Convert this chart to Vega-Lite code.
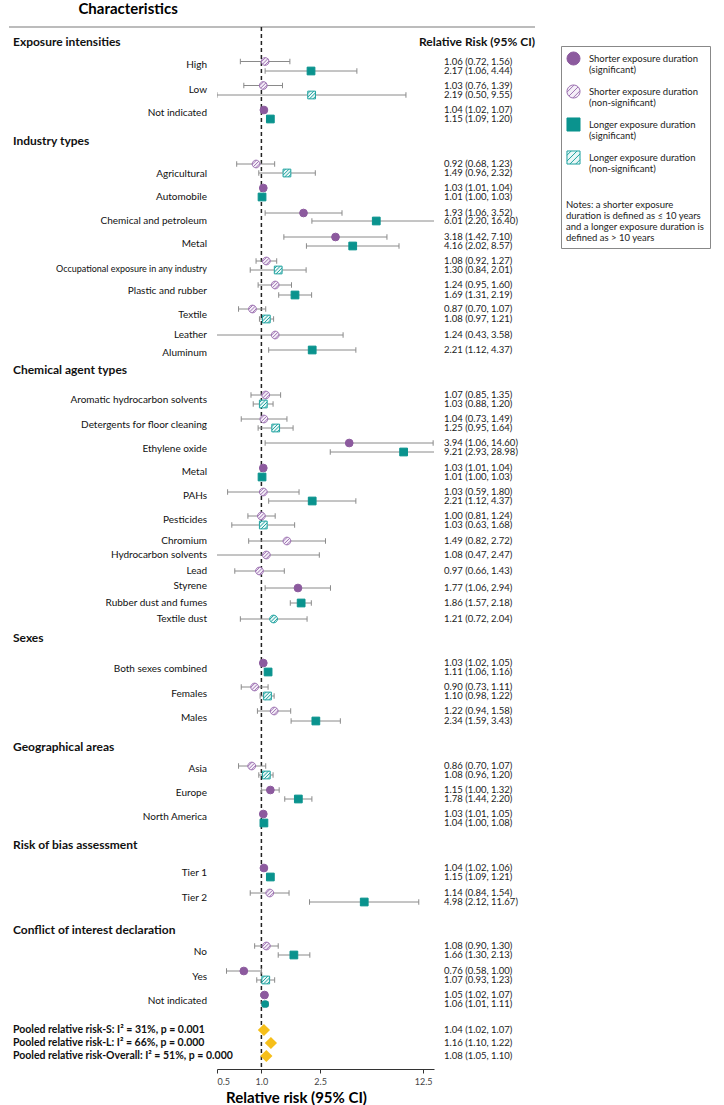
{
  "$schema": "https://vega.github.io/schema/vega-lite/v6.json",
  "background": "white",
  "padding": {"left": 8, "top": 2, "right": 0, "bottom": 0},
  "autosize": {"type": "pad"},
  "title": {"text": "Characteristics", "anchor": "start", "dx": 70, "fontSize": 15, "font": "Lato", "fontWeight": "bold", "color": "#000", "offset": 9},
  "spacing": 0,
  "bounds": "flush",
  "datasets": {
    "labels": [
      {"label": "Exposure intensities", "pos": 1.5, "kind": "header"},
      {"label": "High", "pos": 3.8, "kind": "item"},
      {"label": "Low", "pos": 6.3, "kind": "item"},
      {"label": "Not indicated", "pos": 8.6, "kind": "item"},
      {"label": "Industry types", "pos": 11.4, "kind": "header"},
      {"label": "Agricultural", "pos": 14.7, "kind": "item"},
      {"label": "Automobile", "pos": 17.0, "kind": "item"},
      {"label": "Chemical and petroleum", "pos": 19.4, "kind": "item"},
      {"label": "Metal", "pos": 21.7, "kind": "item"},
      {"label": "Occupational exposure in any industry", "pos": 24.2, "kind": "small"},
      {"label": "Plastic and rubber", "pos": 26.4, "kind": "item"},
      {"label": "Textile", "pos": 28.8, "kind": "item"},
      {"label": "Leather", "pos": 30.8, "kind": "item"},
      {"label": "Aluminum", "pos": 32.6, "kind": "item"},
      {"label": "Chemical agent types", "pos": 34.3, "kind": "header"},
      {"label": "Aromatic hydrocarbon solvents", "pos": 37.3, "kind": "item"},
      {"label": "Detergents for floor cleaning", "pos": 39.8, "kind": "item"},
      {"label": "Ethylene oxide", "pos": 42.2, "kind": "item"},
      {"label": "Metal", "pos": 44.5, "kind": "item"},
      {"label": "PAHs", "pos": 46.9, "kind": "item"},
      {"label": "Pesticides", "pos": 49.3, "kind": "item"},
      {"label": "Chromium", "pos": 51.4, "kind": "item"},
      {"label": "Hydrocarbon solvents", "pos": 52.8, "kind": "item"},
      {"label": "Lead", "pos": 54.4, "kind": "item"},
      {"label": "Styrene", "pos": 55.9, "kind": "item"},
      {"label": "Rubber dust and fumes", "pos": 57.6, "kind": "item"},
      {"label": "Textile dust", "pos": 59.2, "kind": "item"},
      {"label": "Sexes", "pos": 61.1, "kind": "header"},
      {"label": "Both sexes combined", "pos": 64.2, "kind": "item"},
      {"label": "Females", "pos": 66.7, "kind": "item"},
      {"label": "Males", "pos": 69.1, "kind": "item"},
      {"label": "Geographical areas", "pos": 72.0, "kind": "header"},
      {"label": "Asia", "pos": 74.2, "kind": "item"},
      {"label": "Europe", "pos": 76.6, "kind": "item"},
      {"label": "North America", "pos": 79.0, "kind": "item"},
      {"label": "Risk of bias assessment", "pos": 81.8, "kind": "header"},
      {"label": "Tier 1", "pos": 84.6, "kind": "item"},
      {"label": "Tier 2", "pos": 87.1, "kind": "item"},
      {"label": "Conflict of interest declaration", "pos": 90.3, "kind": "header"},
      {"label": "No", "pos": 92.5, "kind": "item"},
      {"label": "Yes", "pos": 95.0, "kind": "item"},
      {"label": "Not indicated", "pos": 97.4, "kind": "item"},
      {"label": "Pooled relative risk-S: I² = 31%, p = 0.001", "pos": 100.3, "kind": "pooled"},
      {"label": "Pooled relative risk-L: I² = 66%, p = 0.000", "pos": 101.6, "kind": "pooled"},
      {"label": "Pooled relative risk-Overall: I² = 51%, p = 0.000", "pos": 102.9, "kind": "pooled"}
    ],
    "est": [
      {"pos": 3.45, "est": 1.06, "lo": 0.72, "hi": 1.56, "txt": "1.06 (0.72, 1.56)", "cat": "Shorter exposure duration (non-significant)"},
      {"pos": 4.4, "est": 2.17, "lo": 1.06, "hi": 4.44, "txt": "2.17 (1.06, 4.44)", "cat": "Longer exposure duration (significant)"},
      {"pos": 5.85, "est": 1.03, "lo": 0.76, "hi": 1.39, "txt": "1.03 (0.76, 1.39)", "cat": "Shorter exposure duration (non-significant)"},
      {"pos": 6.8, "est": 2.19, "lo": 0.50, "hi": 9.55, "txt": "2.19 (0.50, 9.55)", "cat": "Longer exposure duration (non-significant)"},
      {"pos": 8.3, "est": 1.04, "lo": 1.02, "hi": 1.07, "txt": "1.04 (1.02, 1.07)", "cat": "Shorter exposure duration (significant)"},
      {"pos": 9.2, "est": 1.15, "lo": 1.09, "hi": 1.20, "txt": "1.15 (1.09, 1.20)", "cat": "Longer exposure duration (significant)"},
      {"pos": 13.7, "est": 0.92, "lo": 0.68, "hi": 1.23, "txt": "0.92 (0.68, 1.23)", "cat": "Shorter exposure duration (non-significant)"},
      {"pos": 14.6, "est": 1.49, "lo": 0.96, "hi": 2.32, "txt": "1.49 (0.96, 2.32)", "cat": "Longer exposure duration (non-significant)"},
      {"pos": 16.1, "est": 1.03, "lo": 1.01, "hi": 1.04, "txt": "1.03 (1.01, 1.04)", "cat": "Shorter exposure duration (significant)"},
      {"pos": 17.0, "est": 1.01, "lo": 1.00, "hi": 1.03, "txt": "1.01 (1.00, 1.03)", "cat": "Longer exposure duration (significant)"},
      {"pos": 18.6, "est": 1.93, "lo": 1.06, "hi": 3.52, "txt": "1.93 (1.06, 3.52)", "cat": "Shorter exposure duration (significant)"},
      {"pos": 19.4, "est": 6.01, "lo": 2.20, "hi": 16.40, "txt": "6.01 (2.20, 16.40)", "cat": "Longer exposure duration (significant)"},
      {"pos": 21.0, "est": 3.18, "lo": 1.42, "hi": 7.10, "txt": "3.18 (1.42, 7.10)", "cat": "Shorter exposure duration (significant)"},
      {"pos": 21.9, "est": 4.16, "lo": 2.02, "hi": 8.57, "txt": "4.16 (2.02, 8.57)", "cat": "Longer exposure duration (significant)"},
      {"pos": 23.4, "est": 1.08, "lo": 0.92, "hi": 1.27, "txt": "1.08 (0.92, 1.27)", "cat": "Shorter exposure duration (non-significant)"},
      {"pos": 24.3, "est": 1.30, "lo": 0.84, "hi": 2.01, "txt": "1.30 (0.84, 2.01)", "cat": "Longer exposure duration (non-significant)"},
      {"pos": 25.8, "est": 1.24, "lo": 0.95, "hi": 1.60, "txt": "1.24 (0.95, 1.60)", "cat": "Shorter exposure duration (non-significant)"},
      {"pos": 26.8, "est": 1.69, "lo": 1.31, "hi": 2.19, "txt": "1.69 (1.31, 2.19)", "cat": "Longer exposure duration (significant)"},
      {"pos": 28.2, "est": 0.87, "lo": 0.70, "hi": 1.07, "txt": "0.87 (0.70, 1.07)", "cat": "Shorter exposure duration (non-significant)"},
      {"pos": 29.2, "est": 1.08, "lo": 0.97, "hi": 1.21, "txt": "1.08 (0.97, 1.21)", "cat": "Longer exposure duration (non-significant)"},
      {"pos": 30.8, "est": 1.24, "lo": 0.43, "hi": 3.58, "txt": "1.24 (0.43, 3.58)", "cat": "Shorter exposure duration (non-significant)"},
      {"pos": 32.3, "est": 2.21, "lo": 1.12, "hi": 4.37, "txt": "2.21 (1.12, 4.37)", "cat": "Longer exposure duration (significant)"},
      {"pos": 36.8, "est": 1.07, "lo": 0.85, "hi": 1.35, "txt": "1.07 (0.85, 1.35)", "cat": "Shorter exposure duration (non-significant)"},
      {"pos": 37.7, "est": 1.03, "lo": 0.88, "hi": 1.20, "txt": "1.03 (0.88, 1.20)", "cat": "Longer exposure duration (non-significant)"},
      {"pos": 39.2, "est": 1.04, "lo": 0.73, "hi": 1.49, "txt": "1.04 (0.73, 1.49)", "cat": "Shorter exposure duration (non-significant)"},
      {"pos": 40.1, "est": 1.25, "lo": 0.95, "hi": 1.64, "txt": "1.25 (0.95, 1.64)", "cat": "Longer exposure duration (non-significant)"},
      {"pos": 41.6, "est": 3.94, "lo": 1.06, "hi": 14.60, "txt": "3.94 (1.06, 14.60)", "cat": "Shorter exposure duration (significant)"},
      {"pos": 42.5, "est": 9.21, "lo": 2.93, "hi": 28.98, "txt": "9.21 (2.93, 28.98)", "cat": "Longer exposure duration (significant)"},
      {"pos": 44.1, "est": 1.03, "lo": 1.01, "hi": 1.04, "txt": "1.03 (1.01, 1.04)", "cat": "Shorter exposure duration (significant)"},
      {"pos": 45.0, "est": 1.01, "lo": 1.00, "hi": 1.03, "txt": "1.01 (1.00, 1.03)", "cat": "Longer exposure duration (significant)"},
      {"pos": 46.5, "est": 1.03, "lo": 0.59, "hi": 1.80, "txt": "1.03 (0.59, 1.80)", "cat": "Shorter exposure duration (non-significant)"},
      {"pos": 47.4, "est": 2.21, "lo": 1.12, "hi": 4.37, "txt": "2.21 (1.12, 4.37)", "cat": "Longer exposure duration (significant)"},
      {"pos": 48.9, "est": 1.00, "lo": 0.81, "hi": 1.24, "txt": "1.00 (0.81, 1.24)", "cat": "Shorter exposure duration (non-significant)"},
      {"pos": 49.8, "est": 1.03, "lo": 0.63, "hi": 1.68, "txt": "1.03 (0.63, 1.68)", "cat": "Longer exposure duration (non-significant)"},
      {"pos": 51.4, "est": 1.49, "lo": 0.82, "hi": 2.72, "txt": "1.49 (0.82, 2.72)", "cat": "Shorter exposure duration (non-significant)"},
      {"pos": 52.8, "est": 1.08, "lo": 0.47, "hi": 2.47, "txt": "1.08 (0.47, 2.47)", "cat": "Shorter exposure duration (non-significant)"},
      {"pos": 54.4, "est": 0.97, "lo": 0.66, "hi": 1.43, "txt": "0.97 (0.66, 1.43)", "cat": "Shorter exposure duration (non-significant)"},
      {"pos": 56.1, "est": 1.77, "lo": 1.06, "hi": 2.94, "txt": "1.77 (1.06, 2.94)", "cat": "Shorter exposure duration (significant)"},
      {"pos": 57.6, "est": 1.86, "lo": 1.57, "hi": 2.18, "txt": "1.86 (1.57, 2.18)", "cat": "Longer exposure duration (significant)"},
      {"pos": 59.2, "est": 1.21, "lo": 0.72, "hi": 2.04, "txt": "1.21 (0.72, 2.04)", "cat": "other", "odd": "hc"},
      {"pos": 63.6, "est": 1.03, "lo": 1.02, "hi": 1.05, "txt": "1.03 (1.02, 1.05)", "cat": "Shorter exposure duration (significant)"},
      {"pos": 64.5, "est": 1.11, "lo": 1.06, "hi": 1.16, "txt": "1.11 (1.06, 1.16)", "cat": "Longer exposure duration (significant)"},
      {"pos": 66.0, "est": 0.90, "lo": 0.73, "hi": 1.11, "txt": "0.90 (0.73, 1.11)", "cat": "Shorter exposure duration (non-significant)"},
      {"pos": 66.9, "est": 1.10, "lo": 0.98, "hi": 1.22, "txt": "1.10 (0.98, 1.22)", "cat": "Longer exposure duration (non-significant)"},
      {"pos": 68.4, "est": 1.22, "lo": 0.94, "hi": 1.58, "txt": "1.22 (0.94, 1.58)", "cat": "Shorter exposure duration (non-significant)"},
      {"pos": 69.4, "est": 2.34, "lo": 1.59, "hi": 3.43, "txt": "2.34 (1.59, 3.43)", "cat": "Longer exposure duration (significant)"},
      {"pos": 73.9, "est": 0.86, "lo": 0.70, "hi": 1.07, "txt": "0.86 (0.70, 1.07)", "cat": "Shorter exposure duration (non-significant)"},
      {"pos": 74.8, "est": 1.08, "lo": 0.96, "hi": 1.20, "txt": "1.08 (0.96, 1.20)", "cat": "Longer exposure duration (non-significant)"},
      {"pos": 76.3, "est": 1.15, "lo": 1.00, "hi": 1.32, "txt": "1.15 (1.00, 1.32)", "cat": "Shorter exposure duration (significant)"},
      {"pos": 77.2, "est": 1.78, "lo": 1.44, "hi": 2.20, "txt": "1.78 (1.44, 2.20)", "cat": "Longer exposure duration (significant)"},
      {"pos": 78.7, "est": 1.03, "lo": 1.01, "hi": 1.05, "txt": "1.03 (1.01, 1.05)", "cat": "Shorter exposure duration (significant)"},
      {"pos": 79.6, "est": 1.04, "lo": 1.00, "hi": 1.08, "txt": "1.04 (1.00, 1.08)", "cat": "Longer exposure duration (significant)"},
      {"pos": 84.1, "est": 1.04, "lo": 1.02, "hi": 1.06, "txt": "1.04 (1.02, 1.06)", "cat": "Shorter exposure duration (significant)"},
      {"pos": 85.0, "est": 1.15, "lo": 1.09, "hi": 1.21, "txt": "1.15 (1.09, 1.21)", "cat": "Longer exposure duration (significant)"},
      {"pos": 86.6, "est": 1.14, "lo": 0.84, "hi": 1.54, "txt": "1.14 (0.84, 1.54)", "cat": "Shorter exposure duration (non-significant)"},
      {"pos": 87.5, "est": 4.98, "lo": 2.12, "hi": 11.67, "txt": "4.98 (2.12, 11.67)", "cat": "Longer exposure duration (significant)"},
      {"pos": 91.9, "est": 1.08, "lo": 0.90, "hi": 1.30, "txt": "1.08 (0.90, 1.30)", "cat": "Shorter exposure duration (non-significant)"},
      {"pos": 92.8, "est": 1.66, "lo": 1.30, "hi": 2.13, "txt": "1.66 (1.30, 2.13)", "cat": "Longer exposure duration (significant)"},
      {"pos": 94.4, "est": 0.76, "lo": 0.58, "hi": 1.00, "txt": "0.76 (0.58, 1.00)", "cat": "Shorter exposure duration (significant)"},
      {"pos": 95.3, "est": 1.07, "lo": 0.93, "hi": 1.23, "txt": "1.07 (0.93, 1.23)", "cat": "Longer exposure duration (non-significant)"},
      {"pos": 96.8, "est": 1.05, "lo": 1.02, "hi": 1.07, "txt": "1.05 (1.02, 1.07)", "cat": "Shorter exposure duration (significant)"},
      {"pos": 97.7, "est": 1.06, "lo": 1.01, "hi": 1.11, "txt": "1.06 (1.01, 1.11)", "cat": "other", "odd": "c"}
    ],
    "pooled": [
      {"pos": 100.3, "est": 1.04, "lo": 1.02, "hi": 1.07, "txt": "1.04 (1.02, 1.07)"},
      {"pos": 101.6, "est": 1.16, "lo": 1.10, "hi": 1.22, "txt": "1.16 (1.10, 1.22)"},
      {"pos": 102.9, "est": 1.08, "lo": 1.05, "hi": 1.10, "txt": "1.08 (1.05, 1.10)"}
    ]
  },
  "hconcat": [
    {
      "width": 208,
      "height": 1042,
      "data": {"name": "labels"},
      "layer": [
        {
          "data": {"values": [{}]},
          "mark": {"type": "rule", "color": "#7a7a7a", "strokeWidth": 1.2},
          "encoding": {"x": {"value": 0}, "x2": {"value": "width"}, "y": {"value": 0}}
        },
        {
          "transform": [{"filter": "datum.kind == 'header'"}],
          "mark": {"type": "text", "align": "left", "dx": 4, "font": "Lato", "fontSize": 12, "fontWeight": "bold", "color": "#111"},
          "encoding": {
            "x": {"value": 0},
            "y": {"field": "pos", "type": "quantitative", "scale": {"domain": [0, 104.2], "reverse": true, "nice": false, "zero": false}, "axis": null},
            "text": {"field": "label"}
          }
        },
        {
          "transform": [{"filter": "datum.kind == 'pooled'"}],
          "mark": {"type": "text", "align": "left", "dx": 4, "font": "Lato", "fontSize": 10.5, "fontWeight": "bold", "color": "#111"},
          "encoding": {
            "x": {"value": 0},
            "y": {"field": "pos", "type": "quantitative", "scale": {"domain": [0, 104.2], "reverse": true, "nice": false, "zero": false}, "axis": null},
            "text": {"field": "label"}
          }
        },
        {
          "transform": [{"filter": "datum.kind == 'item'"}],
          "mark": {"type": "text", "align": "right", "dx": -10, "font": "Lato", "fontSize": 10, "color": "#111"},
          "encoding": {
            "x": {"value": "width"},
            "y": {"field": "pos", "type": "quantitative", "scale": {"domain": [0, 104.2], "reverse": true, "nice": false, "zero": false}, "axis": null},
            "text": {"field": "label"}
          }
        },
        {
          "transform": [{"filter": "datum.kind == 'small'"}],
          "mark": {"type": "text", "align": "right", "dx": -10, "font": "Lato", "fontSize": 9, "color": "#111"},
          "encoding": {
            "x": {"value": "width"},
            "y": {"field": "pos", "type": "quantitative", "scale": {"domain": [0, 104.2], "reverse": true, "nice": false, "zero": false}, "axis": null},
            "text": {"field": "label"}
          }
        }
      ]
    },
    {
      "width": 217,
      "height": 1042,
      "data": {"name": "est"},
      "layer": [
        {
          "data": {"values": [{}]},
          "mark": {"type": "rule", "color": "#7a7a7a", "strokeWidth": 1.2},
          "encoding": {"x": {"value": 0}, "x2": {"value": "width"}, "y": {"value": 0}}
        },
        {
          "transform": [{"filter": "datum.cat != 'other'"}],
          "mark": {"type": "point", "filled": true, "size": 60, "strokeWidth": 1, "opacity": 0},
          "encoding": {
            "x": {
              "field": "est", "type": "quantitative",
              "scale": {"type": "log", "domain": [0.5, 14.8], "nice": false},
              "axis": {"values": [0.5, 1, 2.5, 12.5], "format": ".1f", "title": "Relative risk (95% CI)", "titleFont": "Lato", "titleFontSize": 15, "titleFontWeight": "bold", "titleColor": "#000", "titleX": 79, "titlePadding": 4, "labelFont": "Lato", "labelFontSize": 9, "labelColor": "#444", "labelPadding": 4, "tickColor": "#333", "tickSize": 4, "domainColor": "#333", "grid": false}
            },
            "y": {"field": "pos", "type": "quantitative", "scale": {"domain": [0, 104.2], "reverse": true, "nice": false, "zero": false}, "axis": null}
          }
        },
        {
          "data": {"values": [{"one": 1}]},
          "mark": {"type": "rule", "color": "#222", "strokeWidth": 1.5, "strokeDash": [4, 3]},
          "encoding": {
            "x": {"field": "one", "type": "quantitative"},
            "y": {"value": 0},
            "y2": {"value": "height"}
          }
        },
        {
          "mark": {"type": "rule", "color": "#8a8a8a", "strokeWidth": 1, "clip": true},
          "encoding": {
            "x": {"field": "lo", "type": "quantitative"},
            "x2": {"field": "hi"},
            "y": {"field": "pos", "type": "quantitative"}
          }
        },
        {
          "mark": {"type": "point", "shape": "M0,-1L0,1", "filled": false, "size": 30, "color": "#8a8a8a", "strokeWidth": 1, "opacity": 1, "clip": true},
          "encoding": {
            "x": {"field": "lo", "type": "quantitative"},
            "y": {"field": "pos", "type": "quantitative"}
          }
        },
        {
          "mark": {"type": "point", "shape": "M0,-1L0,1", "filled": false, "size": 30, "color": "#8a8a8a", "strokeWidth": 1, "opacity": 1, "clip": true},
          "encoding": {
            "x": {"field": "hi", "type": "quantitative"},
            "y": {"field": "pos", "type": "quantitative"}
          }
        },
        {
          "transform": [{"filter": "datum.cat != 'other'"}],
          "mark": {"type": "point", "filled": true, "size": 60, "strokeWidth": 1, "opacity": 1},
          "encoding": {
            "x": {"field": "est", "type": "quantitative"},
            "y": {"field": "pos", "type": "quantitative"},
            "shape": {
              "field": "cat", "type": "nominal",
              "scale": {
                "domain": ["Shorter exposure duration (significant)", "Shorter exposure duration (non-significant)", "Longer exposure duration (significant)", "Longer exposure duration (non-significant)"],
                "range": ["circle", "M1,0A1,1,0,1,1,-1,0A1,1,0,1,1,1,0Z M0.095,-0.995L-0.995,0.095 M0.707,-0.707L-0.707,0.707 M0.995,-0.095L-0.095,0.995", "square", "M-1,-1L1,-1L1,1L-1,1Z M-1,-0.35L-0.35,-1 M-1,0.55L0.55,-1 M1,-0.55L-0.55,1 M1,0.35L0.35,1"]
              },
              "legend": {
                "orient": "none", "legendX": 552, "legendY": 19, "direction": "vertical",
                "title": ["Notes: a shorter exposure", "duration is defined as ≤ 10 years", "and a longer exposure duration is\u2003\u2003", "defined  as > 10 years"],
                "titleOrient": "bottom", "titleAnchor": "start", "titleFont": "Lato", "titleFontSize": 9.5, "titleFontWeight": "normal", "titleColor": "#222", "titleLineHeight": 11, "titlePadding": 26, "titleLimit": 300,
                "labelExpr": "[slice(datum.label, 0, indexof(datum.label, ' (')), slice(datum.label, indexof(datum.label, ' (') + 1)]",
                "labelFont": "Lato", "labelFontSize": 9.5, "labelColor": "#222", "labelLimit": 300, "labelOffset": 8,
                "symbolSize": 170, "symbolStrokeWidth": 1, "rowPadding": 7, "padding": 5, "strokeColor": "#888", "fillColor": "#fff"
              }
            },
            "fill": {
              "field": "cat", "type": "nominal",
              "scale": {
                "domain": ["Shorter exposure duration (significant)", "Shorter exposure duration (non-significant)", "Longer exposure duration (significant)", "Longer exposure duration (non-significant)"],
                "range": ["#8c5a9e", "#f5eff8", "#0a938e", "#eaf7f7"]
              }
            },
            "stroke": {
              "field": "cat", "type": "nominal",
              "scale": {
                "domain": ["Shorter exposure duration (significant)", "Shorter exposure duration (non-significant)", "Longer exposure duration (significant)", "Longer exposure duration (non-significant)"],
                "range": ["#8c5a9e", "#9d72b2", "#0a938e", "#1fa3a0"]
              }
            }
          }
        },
        {
          "transform": [{"filter": "datum.odd == 'hc'"}],
          "mark": {"type": "point", "shape": "M1,0A1,1,0,1,1,-1,0A1,1,0,1,1,1,0Z M0.095,-0.995L-0.995,0.095 M0.707,-0.707L-0.707,0.707 M0.995,-0.095L-0.095,0.995", "filled": false, "fill": "#eaf7f7", "stroke": "#1fa3a0", "size": 60, "strokeWidth": 1, "opacity": 1},
          "encoding": {
            "x": {"field": "est", "type": "quantitative"},
            "y": {"field": "pos", "type": "quantitative"}
          }
        },
        {
          "transform": [{"filter": "datum.odd == 'c'"}],
          "mark": {"type": "point", "shape": "circle", "filled": true, "color": "#0a938e", "size": 60, "opacity": 1},
          "encoding": {
            "x": {"field": "est", "type": "quantitative"},
            "y": {"field": "pos", "type": "quantitative"}
          }
        },
        {
          "data": {"name": "pooled"},
          "mark": {"type": "point", "shape": "diamond", "filled": true, "color": "#f6bf1a", "size": 150, "opacity": 1},
          "encoding": {
            "x": {"field": "est", "type": "quantitative"},
            "y": {"field": "pos", "type": "quantitative"}
          }
        }
      ]
    },
    {
      "width": 101,
      "height": 1042,
      "layer": [
        {
          "data": {"values": [{}]},
          "mark": {"type": "rule", "color": "#7a7a7a", "strokeWidth": 1.2},
          "encoding": {"x": {"value": 0}, "x2": {"value": "width"}, "y": {"value": 0}}
        },
        {
          "data": {"values": [{"label": "Relative Risk (95% CI)", "pos": 1.5}]},
          "mark": {"type": "text", "align": "right", "font": "Lato", "fontSize": 12, "fontWeight": "bold", "color": "#111"},
          "encoding": {
            "x": {"value": "width"},
            "y": {"field": "pos", "type": "quantitative", "scale": {"domain": [0, 104.2], "reverse": true, "nice": false, "zero": false}, "axis": null},
            "text": {"field": "label"}
          }
        },
        {
          "data": {"name": "est"},
          "mark": {"type": "text", "align": "left", "dx": 10, "font": "Lato", "fontSize": 9.5, "color": "#222"},
          "encoding": {
            "x": {"value": 0},
            "y": {"field": "pos", "type": "quantitative", "scale": {"domain": [0, 104.2], "reverse": true, "nice": false, "zero": false}, "axis": null},
            "text": {"field": "txt"}
          }
        },
        {
          "data": {"name": "pooled"},
          "mark": {"type": "text", "align": "left", "dx": 10, "font": "Lato", "fontSize": 9.5, "color": "#222"},
          "encoding": {
            "x": {"value": 0},
            "y": {"field": "pos", "type": "quantitative", "scale": {"domain": [0, 104.2], "reverse": true, "nice": false, "zero": false}, "axis": null},
            "text": {"field": "txt"}
          }
        }
      ]
    }
  ],
  "config": {
    "view": {"stroke": null},
    "font": "Lato"
  }
}
